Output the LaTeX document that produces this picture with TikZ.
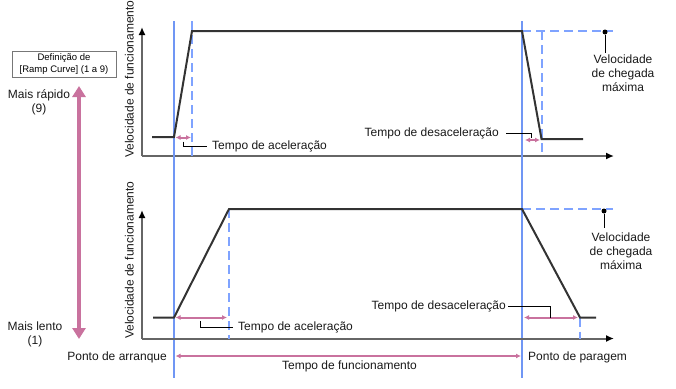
\documentclass[tikz,border=0pt]{standalone}
\usepackage{fontspec}
\setmainfont{Liberation Sans}
\usetikzlibrary{arrows.meta}
\definecolor{vblue}{HTML}{7096F4}
\definecolor{dblue}{HTML}{7FA3FF}
\definecolor{pinkc}{HTML}{C9729E}
\definecolor{axisc}{HTML}{666666}
\definecolor{prof}{HTML}{333333}
\definecolor{boxc}{HTML}{777777}
\begin{document}
\begin{tikzpicture}[x=1pt,y=-1pt,
  font=\fontsize{12}{14}\selectfont,
  axis/.style={draw=axisc, line width=2pt, -{Latex[length=8pt,width=7pt,color=black]}},
  profile/.style={draw=prof, line width=2pt, line join=miter},
  vline/.style={draw=vblue, line width=1.6pt},
  dline/.style={draw=dblue, line width=1.8pt, dash pattern=on 9pt off 5pt},
  span/.style={draw=pinkc, line width=2pt, {Latex[length=5pt,width=5pt]}-{Latex[length=5pt,width=5pt]}},
  leader/.style={draw=black, line width=0.8pt},
  lbl/.style={inner sep=0pt, text=black!90},
  vlbl/.style={inner sep=0pt, text=black!90, rotate=90, anchor=mid west},
  dotc/.style={circle, fill=black, inner sep=0pt, minimum size=5pt}]
\useasboundingbox (0,0) rectangle (676,388);

% ---------- left scale ----------
\node[draw=boxc, line width=0.8pt, minimum width=104pt, minimum height=26pt, inner sep=1pt,
      align=center, font=\fontsize{9.5}{12.5}\selectfont] (setbox) at (64,64)
  {Definição de\\{[}Ramp Curve{]} (1 a 9)};
\coordinate (sTop) at (79,86);
\coordinate (sBot) at (79,339);
\draw[draw=pinkc, line width=4pt, {Triangle[length=11pt,width=13pt]}-{Triangle[length=11pt,width=13pt]}] (sTop) -- (sBot);
\node[lbl, align=center] (fast) at (39,102) {Mais rápido\\(9)};
\node[lbl, align=center] (slow) at (35,334) {Mais lento\\(1)};

% ---------- top graph ----------
\coordinate (tO) at (142,156);
\coordinate (tY) at (142,27);
\coordinate (tX) at (614,156);
\draw[axis] (tO) -- (tY);
\draw[axis] (tO) -- (tX);
\node[vlbl] (tylbl) at (131,158) {Velocidade de funcionamento};

\coordinate (tA) at (152,137);
\coordinate (tB) at (174,137);
\coordinate (tC) at (192,31);
\coordinate (tD) at (522,31);
\coordinate (tE) at (541.5,139);
\coordinate (tF) at (583,139);

% vertical blue lines (shared)
\coordinate (v1t) at (174,21);
\coordinate (v1b) at (174,378);
\coordinate (v2t) at (522,21);
\coordinate (v2b) at (522,378);
\draw[vline] (v1t) -- (v1b);
\draw[vline] (v2t) -- (v2b);

\coordinate (td1t) at (192,21);
\coordinate (td1b) at (192,156);
\coordinate (td2t) at (542,31);
\coordinate (td2b) at (542,156);
\coordinate (tdh) at (613,31);
\draw[dline] (td1t) -- (td1b);
\draw[dline] (td2t) -- (td2b);
\draw[dline] (tD) -- (tdh);

\draw[profile] (tA) -- (tB) -- (tC) -- (tD) -- (tE) -- (tF);

\node[dotc] (tdot) at (605,32) {};
\node[lbl, align=center, anchor=north] (tmax) at (623,55) {Velocidade\\de chegada\\máxima};
\draw[leader] (tdot) -- (605,53);

\coordinate (taA) at (175.5,137.5);
\coordinate (taB) at (191,137.5);
\draw[span] (taA) -- (taB);
\node[lbl, anchor=west] (tacc) at (212,146) {Tempo de aceleração};
\draw[leader] (183,141.5) -- (183,146) -- ([xshift=-5pt]tacc.west);
\coordinate (tdA) at (525,140);
\coordinate (tdB) at (540,140);
\draw[span] (tdA) -- (tdB);
\node[lbl, anchor=east] (tdec) at (499,133) {Tempo de desaceleração};
\draw[leader] ([xshift=7pt]tdec.east) -- (531.5,133) -- (531.5,137.5);

% ---------- bottom graph ----------
\coordinate (bO) at (142,338.5);
\coordinate (bY) at (142,210);
\coordinate (bX) at (614,338.5);
\draw[axis] (bO) -- (bY);
\draw[axis] (bO) -- (bX);
\node[vlbl] (bylbl) at (131,339) {Velocidade de funcionamento};

\coordinate (bA) at (153,317.5);
\coordinate (bB) at (174,317.5);
\coordinate (bC) at (229,209);
\coordinate (bD) at (522,209);
\coordinate (bE) at (580,317.5);
\coordinate (bF) at (596,317.5);

\coordinate (bd1b) at (229,338.5);
\coordinate (bd2b) at (580,338.5);
\coordinate (bdh) at (613,209);
\draw[dline] (bC) -- (bd1b);
\draw[dline] (bE) -- (bd2b);
\draw[dline] (bD) -- (bdh);

\draw[profile] (bA) -- (bB) -- (bC) -- (bD) -- (bE) -- (bF);

\node[dotc] (bdot) at (604,211) {};
\node[lbl, align=center, anchor=north] (bmax) at (621,233) {Velocidade\\de chegada\\máxima};
\draw[leader] (bdot) -- (604,228);

\coordinate (baA) at (175.5,317.5);
\coordinate (baB) at (227,317.5);
\draw[span] (baA) -- (baB);
\node[lbl, anchor=west] (bacc) at (238,327) {Tempo de aceleração};
\draw[leader] (200,321) -- (200,327) -- ([xshift=-5pt]bacc.west);
\coordinate (bdA) at (524,317.5);
\coordinate (bdB) at (578,317.5);
\draw[span] (bdA) -- (bdB);
\node[lbl, anchor=east] (bdec) at (506,306) {Tempo de desaceleração};
\draw[leader] ([xshift=2pt]bdec.east) -- (550,306) -- (550,317.5);

% ---------- run time ----------
\coordinate (rA) at (175.5,356);
\coordinate (rB) at (521,356);
\draw[span] (rA) -- (rB);
\node[lbl, anchor=east] (start) at (167,357) {Ponto de arranque};
\node[lbl, anchor=west] (stop) at (528,357) {Ponto de paragem};
\node[lbl] (runt) at (349.5,366) {Tempo de funcionamento};
\end{tikzpicture}
\end{document}
